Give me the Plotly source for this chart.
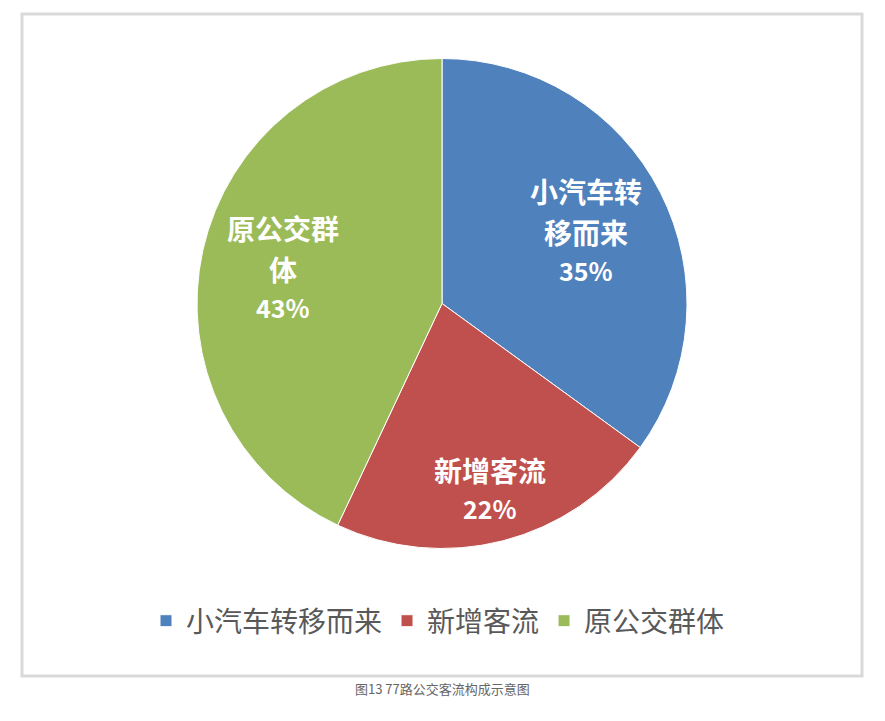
import math
import plotly.graph_objects as go

# 77路公交客流构成
labels = ["小汽车转移而来", "新增客流", "原公交群体"]
label_lines = [["小汽车转", "移而来"], ["新增客流"], ["原公交群", "体"]]
values = [35, 22, 43]
colors = ["#4F81BD", "#C0504D", "#9BBB59"]
caption = "图13 77路公交客流构成示意图"

# 页面 body 有 8px 边距, 图幅相应缩小
W, H = 869, 705
FONT = "Noto Sans CJK SC"

# 饼图位置 (像素)
CX, CY, R = 434, 295.5, 245
LABEL_R = [0.66, 0.78, 0.665]  # 数据标签离圆心的比例
NAME_SIZE, PCT_SIZE = 28, 25
NAME_STEP, PCT_STEP = 41, 38   # 行距


def add_text(text, x, y, size):
    fig.add_annotation(
        text=f"<b>{text}</b>", xref="paper", yref="paper",
        x=x / W, y=1 - y / H, xanchor="center", yanchor="middle",
        showarrow=False, borderpad=0,
        font=dict(family=FONT, size=size, color="white"),
    )


fig = go.Figure()

fig.add_trace(go.Pie(
    labels=labels,
    values=values,
    sort=False,
    direction="clockwise",
    rotation=0,
    marker=dict(colors=colors, line=dict(color="white", width=1)),
    textinfo="none",
    hoverinfo="label+percent",
    domain=dict(x=[(CX - R) / W, (CX + R) / W],
                y=[1 - (CY + R) / H, 1 - (CY - R) / H]),
))

# 数据标签
total = sum(values)
start = 0.0
for lines, v, f in zip(label_lines, values, LABEL_R):
    mid = (start + v / 2) / total * 2 * math.pi
    start += v
    px = CX + R * f * math.sin(mid)
    py = CY - R * f * math.cos(mid)
    offs = [i * NAME_STEP for i in range(len(lines))]
    offs.append(offs[-1] + PCT_STEP)
    shift = (offs[0] + offs[-1]) / 2
    for line, o in zip(lines, offs):
        add_text(line, px, py + o - shift, NAME_SIZE)
    add_text(f"{v / total * 100:.0f}%", px, py + offs[-1] - shift, PCT_SIZE)

# 外框
fig.add_shape(type="rect", xref="paper", yref="paper",
              x0=14 / W, x1=854 / W, y0=1 - 668 / H, y1=1 - 6 / H,
              line=dict(color="#D9D9D9", width=3))

# 图注
fig.add_annotation(text=caption, xref="paper", yref="paper",
                   x=434 / W, y=1 - 692 / H, showarrow=False,
                   font=dict(family=FONT, size=13, color="#666666"))

fig.update_layout(
    width=W, height=H,
    margin=dict(l=0, r=0, t=0, b=0),
    paper_bgcolor="white",
    plot_bgcolor="white",
    showlegend=True,
    legend=dict(orientation="h", x=430 / W, xanchor="center",
                y=1 - 613 / H, yanchor="middle",
                font=dict(family=FONT, size=28, color="#595959"),
                itemwidth=30, traceorder="normal"),
)

fig.write_html("out.html")
